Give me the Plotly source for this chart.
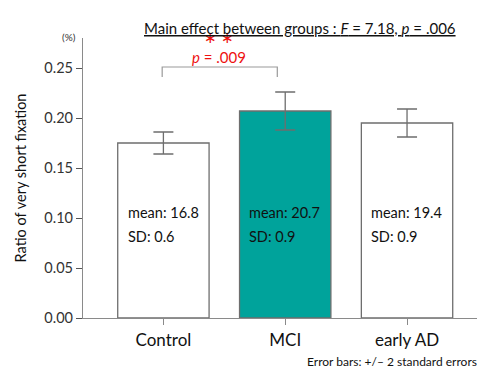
import plotly.graph_objects as go

categories = ["Control", "MCI", "early AD"]
ratio_values = [0.175, 0.207, 0.195]
error_2se = [0.011, 0.019, 0.014]
bar_colors = ["#ffffff", "#00a39b", "#ffffff"]
mean_labels = ["16.8", "20.7", "19.4"]
sd_labels = ["0.6", "0.9", "0.9"]
y_ticks = [0.0, 0.05, 0.10, 0.15, 0.20, 0.25]
y_tick_text = ["0.00", "0.05", "0.10", "0.15", "0.20", "0.25"]

FONT = "Lato, 'Open Sans', sans-serif"
AXIS_GRAY = "#8a8a8a"

fig = go.Figure()
fig.add_trace(go.Bar(
    x=list(range(len(categories))),
    y=ratio_values,
    width=0.75,
    marker=dict(color=bar_colors, line=dict(color="#6e6e6e", width=1.3)),
    error_y=dict(type="data", array=error_2se, visible=True,
                 color="#6e6e6e", thickness=1.3, width=10),
    showlegend=False,
    hoverinfo="skip",
))

# mean / SD annotations inside bars
for i, (m, s) in enumerate(zip(mean_labels, sd_labels)):
    fig.add_annotation(x=i - 0.31, y=0.106, xref="x", yref="y",
                       text=f"mean: {m}", showarrow=False, xanchor="left",
                       font=dict(family=FONT, size=14.5, color="#111111"))
    fig.add_annotation(x=i - 0.31, y=0.082, xref="x", yref="y",
                       text=f"SD: {s}", showarrow=False, xanchor="left",
                       font=dict(family=FONT, size=14.5, color="#111111"))

# significance bracket between Control and MCI
fig.add_shape(type="path", xref="x", yref="y",
              path="M -0.01,0.241 L -0.01,0.251 L 0.935,0.251 L 0.935,0.241",
              line=dict(color="#9a9a9a", width=1.2))
fig.add_annotation(x=0.46, y=0.261, xref="x", yref="y", text="<i>p</i> = .009",
                   showarrow=False, font=dict(family=FONT, size=15, color="#ee1111"))
fig.add_annotation(x=0.455, y=1.005, xref="x", yref="paper", text="\u2217 \u2217",
                   showarrow=False, yanchor="middle",
                   font=dict(family=FONT, size=15, color="#ee1111"))

# title and notes
fig.add_annotation(x=0.54, y=1.075, xref="paper", yref="paper",
                   text="<u>Main effect between groups : <i>F</i> = 7.18, <i>p</i> = .006</u>",
                   showarrow=False, font=dict(family=FONT, size=15, color="#111111"))
fig.add_annotation(x=-0.057, y=1.032, xref="paper", yref="paper", text="(%)",
                   showarrow=False, font=dict(family=FONT, size=10, color="#333333"))
fig.add_annotation(x=(305 - 83) / 402, y=-0.155, xref="paper", yref="paper",
                   text="Error bars: +/\u2013 2 standard errors",
                   showarrow=False, xanchor="left", yanchor="middle",
                   font=dict(family=FONT, size=12, color="#111111"))

# page body has an 8px margin: size/margins compensate so the plot area
# lands at x 83..485, y 38..318 of the window
fig.update_layout(
    width=477, height=360,
    margin=dict(l=75, r=0, t=30, b=50, autoexpand=False),
    plot_bgcolor="white", paper_bgcolor="white",
    font=dict(family=FONT),
    xaxis=dict(
        range=[-0.66, 2.64], automargin=False,
        tickvals=list(range(len(categories))), ticktext=categories,
        showline=True, linecolor=AXIS_GRAY, linewidth=1.2,
        ticks="outside", ticklen=6, tickcolor=AXIS_GRAY,
        tickfont=dict(family=FONT, size=17, color="#111111"),
        showgrid=False, zeroline=False,
    ),
    yaxis=dict(
        range=[0, 0.28], automargin=False,
        tickvals=y_ticks, ticktext=y_tick_text,
        showline=True, linecolor=AXIS_GRAY, linewidth=1.2,
        ticks="outside", ticklen=6, tickcolor="#555555",
        tickfont=dict(family=FONT, size=14.5, color="#333333"),
        showgrid=False, zeroline=False,
        title=dict(text="Ratio of very short fixation", standoff=14,
                   font=dict(family=FONT, size=14.5, color="#111111")),
    ),
)

fig.write_html("out.html")
